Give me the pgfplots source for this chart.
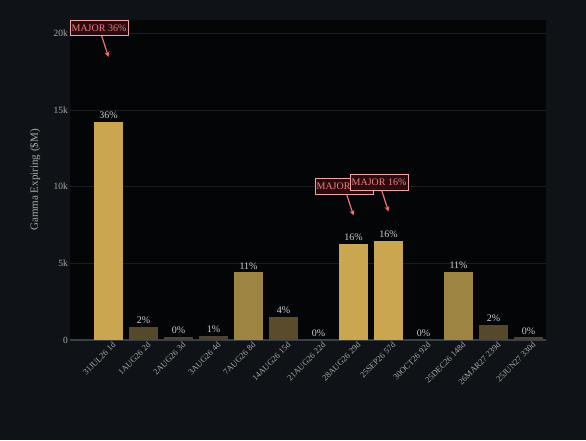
\documentclass[border=0pt]{standalone}
\usepackage{pgfplots}
\pgfplotsset{compat=1.18}
\usepackage{fontspec}
\setmainfont{Liberation Serif}
\usetikzlibrary{arrows.meta}
\definecolor{paperbg}{HTML}{0F1317}
\definecolor{plotbg}{HTML}{040507}
\definecolor{gridc}{HTML}{191E22}
\definecolor{zeroc}{HTML}{3A3F44}
\definecolor{tickc}{HTML}{A8A8A8}
\definecolor{labc}{HTML}{CFCFCF}
\definecolor{goldA}{HTML}{C9A64F}
\definecolor{goldB}{HTML}{9E8442}
\definecolor{goldC}{HTML}{5A4B2C}
\definecolor{goldD}{HTML}{55482B}
\definecolor{goldE}{HTML}{4B4434}
\definecolor{annbd}{HTML}{F2A3A3}
\definecolor{annfill}{HTML}{2A0B0F}
\definecolor{anntx}{HTML}{F28080}
\definecolor{arrc}{HTML}{EE7070}
\begin{document}
\begin{tikzpicture}
\fill[paperbg] (-70pt,-100pt) rectangle (516pt,340pt);
\begin{axis}[
  at={(0pt,0pt)}, anchor=south west,
  scale only axis, width=476pt, height=320pt,
  xmin=-1.1, xmax=12.5, ymin=0, ymax=20860,
  axis background/.style={fill=plotbg},
  axis line style={draw=none},
  major tick length=0pt,
  scaled y ticks=false,
  ybar, bar width=0.81, 
  xtick={0,1,2,3,4,5,6,7,8,9,10,11,12},
  xticklabels={31JUL26 1d,1AUG26 2d,2AUG26 3d,3AUG26 4d,7AUG26 8d,14AUG26 15d,21AUG26 22d,28AUG26 29d,25SEP26 57d,30OCT26 92d,25DEC26 148d,26MAR27 239d,25JUN27 330d},
  x tick label style={rotate=45, anchor=north east, font=\fontsize{8.5}{9}\selectfont, text=tickc, inner sep=0.5pt, yshift=-3pt, xshift=2pt},
  ytick={0,5000,10000,15000,20000},
  yticklabels={0,5k,10k,15k,20k},
  y tick label style={font=\fontsize{9.5}{10}\selectfont, text=tickc, inner sep=1pt, xshift=-1pt},
  ymajorgrids, major grid style={color=gridc, line width=0.6pt},
  extra y ticks={0}, extra y tick labels={},
  extra y tick style={grid=major, major grid style={color=zeroc, line width=1.2pt}},
  ylabel={Gamma Expiring (\$M)},
  every axis y label/.style={at={(axis description cs:0,0.5)}, xshift=-35pt, rotate=90, anchor=center, font=\fontsize{11}{12}\selectfont, text=tickc},
  every node near coord/.append style={font=\fontsize{10}{11}\selectfont, text=labc, inner sep=2pt, yshift=1pt},
  clip=false,
]
\addplot[fill=goldA, draw=none, bar shift=0pt, nodes near coords={36\%}] coordinates {(0,14200)};
\addplot[fill=goldD, draw=none, bar shift=0pt, nodes near coords={2\%}] coordinates {(1,830)};
\addplot[fill=goldE, draw=none, bar shift=0pt, nodes near coords={0\%}] coordinates {(2,180)};
\addplot[fill=goldE, draw=none, bar shift=0pt, nodes near coords={1\%}] coordinates {(3,260)};
\addplot[fill=goldB, draw=none, bar shift=0pt, nodes near coords={11\%}] coordinates {(4,4410)};
\addplot[fill=goldC, draw=none, bar shift=0pt, nodes near coords={4\%}] coordinates {(5,1480)};
\addplot[fill=goldE, draw=none, bar shift=0pt, nodes near coords={0\%}] coordinates {(6,40)};
\addplot[fill=goldA, draw=none, bar shift=0pt, nodes near coords={16\%}] coordinates {(7,6250)};
\addplot[fill=goldA, draw=none, bar shift=0pt, nodes near coords={16\%}] coordinates {(8,6450)};
\addplot[fill=goldE, draw=none, bar shift=0pt, nodes near coords={0\%}] coordinates {(9,40)};
\addplot[fill=goldB, draw=none, bar shift=0pt, nodes near coords={11\%}] coordinates {(10,4420)};
\addplot[fill=goldD, draw=none, bar shift=0pt, nodes near coords={2\%}] coordinates {(11,980)};
\addplot[fill=goldE, draw=none, bar shift=0pt, nodes near coords={0\%}] coordinates {(12,170)};
% annotations
\tikzset{ann/.style={draw=annbd, fill=annfill, text=anntx, line width=0.6pt, inner xsep=1.5pt, inner ysep=4.5pt, font=\fontsize{10}{11}\selectfont, shift={(-9.5pt,29pt)}},
  annarr/.style={arrc, line width=1.2pt, -{Stealth[length=5pt,width=5pt]}}}
\node[ann] (a1) at (axis cs:0,18460) {MAJOR 36\%};
\draw[annarr] (a1) -- (axis cs:0,18460);
\node[ann] (a2) at (axis cs:7,8125) {MAJOR 16\%};
\draw[annarr] (a2) -- (axis cs:7,8125);
\node[ann] (a3) at (axis cs:8,8385) {MAJOR 16\%};
\draw[annarr] (a3) -- (axis cs:8,8385);
\end{axis}
\pgfresetboundingbox
\path (-70pt,-100pt) rectangle (516pt,340pt);
\end{tikzpicture}
\end{document}
